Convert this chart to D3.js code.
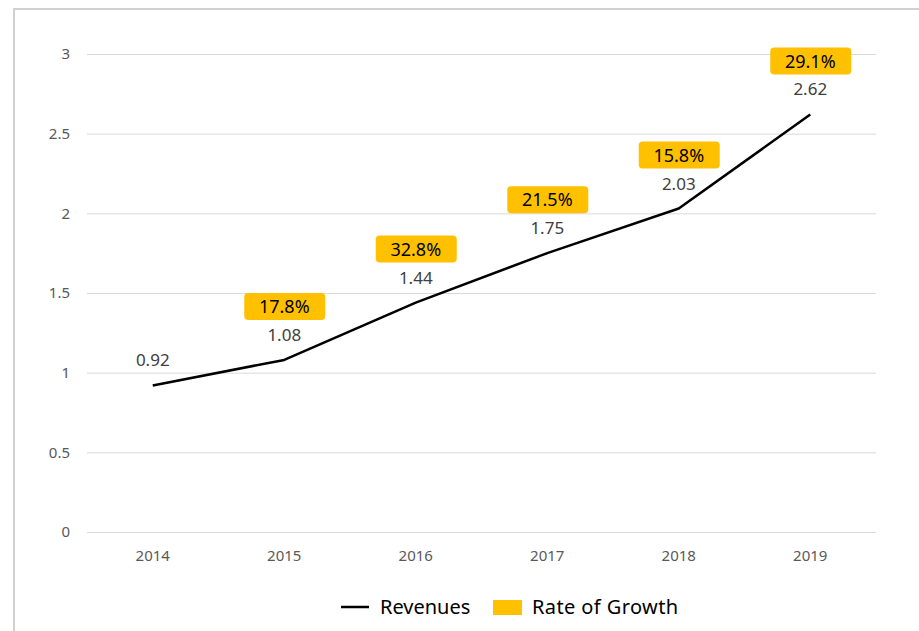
<!DOCTYPE html>
<html>
<head>
<meta charset="utf-8">
<script src="https://cdn.jsdelivr.net/npm/d3@7"></script>
<style>
  body { margin: 0; background: #fff; }
  svg { display: block; font-family: "Noto Sans", "Open Sans", sans-serif; }
</style>
</head>
<body>
<script>
var years = ["2014", "2015", "2016", "2017", "2018", "2019"];
var revenues = [0.92, 1.08, 1.44, 1.75, 2.03, 2.62];
var growth = [null, "17.8%", "32.8%", "21.5%", "15.8%", "29.1%"];
var yTicks = [0, 0.5, 1, 1.5, 2, 2.5, 3];

var width = 919, height = 631;
var svg = d3.select("body").append("svg")
    .attr("width", width)
    .attr("height", height);

// outer frame
svg.append("rect")
    .attr("x", 14).attr("y", 9)
    .attr("width", 940).attr("height", 660)
    .attr("fill", "none")
    .attr("stroke", "#d0d0d0")
    .attr("stroke-width", 2);

var x = d3.scaleBand().domain(years).range([87, 876]);
var y = d3.scaleLinear().domain([0, 3]).range([532, 54]);

// gridlines
svg.selectAll("line.grid").data(yTicks).enter().append("line")
    .attr("class", "grid")
    .attr("x1", 87).attr("x2", 876)
    .attr("y1", function(d) { return y(d) + 0.5; })
    .attr("y2", function(d) { return y(d) + 0.5; })
    .attr("stroke", "#d9d9d9")
    .attr("stroke-width", 1);

svg.selectAll("text.ytick").data(yTicks).enter().append("text")
    .attr("class", "ytick")
    .attr("x", 70)
    .attr("y", function(d) { return y(d); })
    .attr("dy", "0.35em")
    .attr("text-anchor", "end")
    .attr("font-size", 15)
    .attr("fill", "#595959")
    .text(function(d) { return d; });

svg.selectAll("text.xtick").data(years).enter().append("text")
    .attr("class", "xtick")
    .attr("x", function(d) { return x(d) + x.bandwidth() / 2; })
    .attr("y", 556)
    .attr("dy", "0.35em")
    .attr("text-anchor", "middle")
    .attr("font-size", 15)
    .attr("fill", "#595959")
    .text(function(d) { return d; });

// revenue line
var line = d3.line()
    .x(function(d, i) { return x(years[i]) + x.bandwidth() / 2; })
    .y(function(d) { return y(d); });

svg.append("path")
    .datum(revenues)
    .attr("d", line)
    .attr("fill", "none")
    .attr("stroke", "#000")
    .attr("stroke-width", 2.5)
    .attr("stroke-linejoin", "round");

svg.selectAll("text.val").data(revenues).enter().append("text")
    .attr("class", "val")
    .attr("x", function(d, i) { return x(years[i]) + x.bandwidth() / 2; })
    .attr("y", function(d) { return y(d) - 25; })
    .attr("dy", "0.35em")
    .attr("text-anchor", "middle")
    .attr("font-size", 17)
    .attr("fill", "#404040")
    .text(function(d) { return d.toFixed(2); });

// growth labels
var g = svg.selectAll("g.growth").data(growth).enter()
    .filter(function(d) { return d != null; })
    .append("g")
    .attr("class", "growth")
    .attr("transform", function(d) {
        var j = growth.indexOf(d);
        return "translate(" + (x(years[j]) + x.bandwidth() / 2) + "," + (y(revenues[j]) - 53) + ")";
    });

g.append("rect")
    .attr("x", -40).attr("y", -14)
    .attr("width", 81).attr("height", 27)
    .attr("rx", 4)
    .attr("fill", "#ffc000");

g.append("text")
    .attr("text-anchor", "middle")
    .attr("dy", "0.35em")
    .attr("font-size", 18)
    .attr("fill", "#000")
    .text(function(d) { return d; });

// legend
var legend = svg.append("g");
legend.append("line")
    .attr("x1", 341).attr("x2", 369)
    .attr("y1", 607).attr("y2", 607)
    .attr("stroke", "#000").attr("stroke-width", 2.5);
legend.append("text")
    .attr("x", 380).attr("y", 607).attr("dy", "0.35em")
    .attr("font-size", 20).attr("fill", "#000")
    .text("Revenues");
legend.append("rect")
    .attr("x", 493).attr("y", 600)
    .attr("width", 29).attr("height", 15)
    .attr("fill", "#ffc000");
legend.append("text")
    .attr("x", 532).attr("y", 607).attr("dy", "0.35em")
    .attr("font-size", 20).attr("letter-spacing", 0.4).attr("fill", "#000")
    .text("Rate of Growth");
</script>
</body>
</html>
